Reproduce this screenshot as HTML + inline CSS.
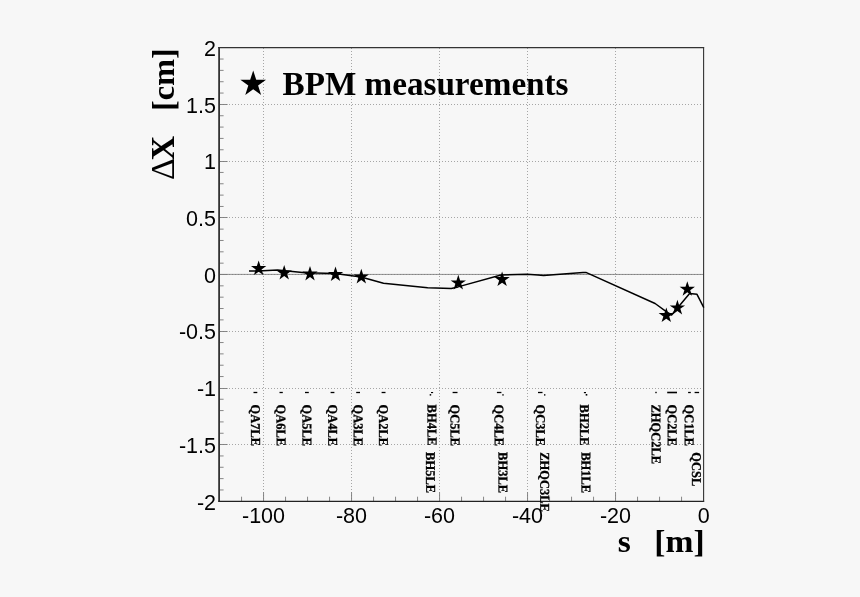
<!DOCTYPE html>
<html><head><meta charset="utf-8"><title>BPM measurements</title>
<style>html,body{margin:0;padding:0;background:#f7f7f7;}body{width:860px;height:597px;overflow:hidden;}svg{display:block;}
.ax{font-family:"Liberation Sans",sans-serif;font-size:21.5px;fill:#000;}
.tt{font-family:"Liberation Serif",serif;font-weight:bold;fill:#000;}
.lb{font-family:"Liberation Serif",serif;font-weight:bold;font-size:300px;fill:#000;stroke:#000;stroke-width:7px;}
</style></head><body>
<svg width="860" height="597" viewBox="0 0 860 597">
<rect x="0" y="0" width="860" height="597" fill="#f7f7f7"/>
<g stroke="#a6a6a6" stroke-width="1" stroke-dasharray="1,2" fill="none">
<line x1="263.5" y1="48.0" x2="263.5" y2="501.2"/>
<line x1="351.5" y1="48.0" x2="351.5" y2="501.2"/>
<line x1="439.5" y1="48.0" x2="439.5" y2="501.2"/>
<line x1="527.5" y1="48.0" x2="527.5" y2="501.2"/>
<line x1="615.5" y1="48.0" x2="615.5" y2="501.2"/>
<line x1="220.0" y1="104.5" x2="703.5" y2="104.5"/>
<line x1="220.0" y1="161.5" x2="703.5" y2="161.5"/>
<line x1="220.0" y1="217.5" x2="703.5" y2="217.5"/>
<line x1="220.0" y1="274.5" x2="703.5" y2="274.5"/>
<line x1="220.0" y1="331.5" x2="703.5" y2="331.5"/>
<line x1="220.0" y1="388.5" x2="703.5" y2="388.5"/>
<line x1="220.0" y1="444.5" x2="703.5" y2="444.5"/>
</g>
<line x1="219.1" y1="274.4" x2="703.5" y2="274.45" stroke="#777" stroke-width="0.8"/>
<g stroke="#7a7a7a" stroke-width="0.9" fill="none">
<line x1="219.1" y1="489.96" x2="223.6" y2="489.96"/>
<line x1="219.1" y1="478.62" x2="223.6" y2="478.62"/>
<line x1="219.1" y1="467.28" x2="223.6" y2="467.28"/>
<line x1="219.1" y1="455.94" x2="223.6" y2="455.94"/>
<line x1="219.1" y1="444.50" x2="227.6" y2="444.50"/>
<line x1="219.1" y1="433.26" x2="223.6" y2="433.26"/>
<line x1="219.1" y1="421.92" x2="223.6" y2="421.92"/>
<line x1="219.1" y1="410.58" x2="223.6" y2="410.58"/>
<line x1="219.1" y1="399.24" x2="223.6" y2="399.24"/>
<line x1="219.1" y1="388.50" x2="227.6" y2="388.50"/>
<line x1="219.1" y1="376.56" x2="223.6" y2="376.56"/>
<line x1="219.1" y1="365.22" x2="223.6" y2="365.22"/>
<line x1="219.1" y1="353.88" x2="223.6" y2="353.88"/>
<line x1="219.1" y1="342.54" x2="223.6" y2="342.54"/>
<line x1="219.1" y1="331.50" x2="227.6" y2="331.50"/>
<line x1="219.1" y1="319.86" x2="223.6" y2="319.86"/>
<line x1="219.1" y1="308.52" x2="223.6" y2="308.52"/>
<line x1="219.1" y1="297.18" x2="223.6" y2="297.18"/>
<line x1="219.1" y1="285.84" x2="223.6" y2="285.84"/>
<line x1="219.1" y1="274.50" x2="227.6" y2="274.50"/>
<line x1="219.1" y1="263.16" x2="223.6" y2="263.16"/>
<line x1="219.1" y1="251.82" x2="223.6" y2="251.82"/>
<line x1="219.1" y1="240.48" x2="223.6" y2="240.48"/>
<line x1="219.1" y1="229.14" x2="223.6" y2="229.14"/>
<line x1="219.1" y1="217.50" x2="227.6" y2="217.50"/>
<line x1="219.1" y1="206.46" x2="223.6" y2="206.46"/>
<line x1="219.1" y1="195.12" x2="223.6" y2="195.12"/>
<line x1="219.1" y1="183.78" x2="223.6" y2="183.78"/>
<line x1="219.1" y1="172.44" x2="223.6" y2="172.44"/>
<line x1="219.1" y1="161.50" x2="227.6" y2="161.50"/>
<line x1="219.1" y1="149.76" x2="223.6" y2="149.76"/>
<line x1="219.1" y1="138.42" x2="223.6" y2="138.42"/>
<line x1="219.1" y1="127.08" x2="223.6" y2="127.08"/>
<line x1="219.1" y1="115.74" x2="223.6" y2="115.74"/>
<line x1="219.1" y1="104.50" x2="227.6" y2="104.50"/>
<line x1="219.1" y1="93.06" x2="223.6" y2="93.06"/>
<line x1="219.1" y1="81.72" x2="223.6" y2="81.72"/>
<line x1="219.1" y1="70.38" x2="223.6" y2="70.38"/>
<line x1="219.1" y1="59.04" x2="223.6" y2="59.04"/>
<line x1="241.55" y1="501.2" x2="241.55" y2="496.7"/>
<line x1="263.55" y1="501.2" x2="263.55" y2="492.2"/>
<line x1="285.55" y1="501.2" x2="285.55" y2="496.7"/>
<line x1="307.55" y1="501.2" x2="307.55" y2="496.7"/>
<line x1="329.55" y1="501.2" x2="329.55" y2="496.7"/>
<line x1="351.55" y1="501.2" x2="351.55" y2="492.2"/>
<line x1="373.55" y1="501.2" x2="373.55" y2="496.7"/>
<line x1="395.55" y1="501.2" x2="395.55" y2="496.7"/>
<line x1="417.55" y1="501.2" x2="417.55" y2="496.7"/>
<line x1="439.55" y1="501.2" x2="439.55" y2="492.2"/>
<line x1="461.55" y1="501.2" x2="461.55" y2="496.7"/>
<line x1="483.55" y1="501.2" x2="483.55" y2="496.7"/>
<line x1="505.55" y1="501.2" x2="505.55" y2="496.7"/>
<line x1="527.55" y1="501.2" x2="527.55" y2="492.2"/>
<line x1="549.55" y1="501.2" x2="549.55" y2="496.7"/>
<line x1="571.55" y1="501.2" x2="571.55" y2="496.7"/>
<line x1="593.55" y1="501.2" x2="593.55" y2="496.7"/>
<line x1="615.55" y1="501.2" x2="615.55" y2="492.2"/>
<line x1="637.55" y1="501.2" x2="637.55" y2="496.7"/>
<line x1="659.55" y1="501.2" x2="659.55" y2="496.7"/>
<line x1="681.55" y1="501.2" x2="681.55" y2="496.7"/>
</g>
<g stroke="#333" fill="none">
<line x1="219.1" y1="47.1" x2="219.1" y2="501.6" stroke-width="1.8"/>
<line x1="218.2" y1="501.3" x2="704.2" y2="501.3" stroke-width="1.3" stroke="#222"/>
<line x1="218.2" y1="47.6" x2="704.1" y2="47.6" stroke-width="1.05"/>
<line x1="703.6" y1="47.1" x2="703.6" y2="501.6" stroke-width="1.1"/>
</g>
<g class="ax" text-anchor="end">
<text x="216" y="55.9">2</text>
<text x="216" y="112.6">1.5</text>
<text x="216" y="169.3">1</text>
<text x="216" y="226.0">0.5</text>
<text x="216" y="282.7">0</text>
<text x="216" y="339.4">-0.5</text>
<text x="216" y="396.1">-1</text>
<text x="216" y="452.8">-1.5</text>
<text x="216" y="509.5">-2</text>
</g>
<g class="ax" text-anchor="middle">
<text x="263.5" y="523">-100</text>
<text x="351.5" y="523">-80</text>
<text x="439.5" y="523">-60</text>
<text x="527.5" y="523">-40</text>
<text x="615.5" y="523">-20</text>
<text x="703.8" y="523">0</text>
</g>
<text class="tt" font-size="33.2" x="282.5" y="94.5">BPM measurements</text>
<text class="tt" font-size="32.6" transform="translate(617.7,551.7) scale(1.03,1)" xml:space="preserve"><tspan x="0">s</tspan><tspan>   </tspan><tspan x="84.37" text-anchor="end">[m]</tspan></text>
<text class="tt" font-size="32.3" transform="translate(174.2,180) rotate(-90)" xml:space="preserve"><tspan x="0" font-size="34" font-weight="normal">Δ</tspan><tspan x="19.4" font-size="34.2">X</tspan><tspan>   </tspan><tspan x="131.8" dy="-0.2" text-anchor="end">[cm]</tspan></text>
<g fill="#000">
<polygon points="253.20,70.50 256.23,79.83 266.04,79.83 258.10,85.59 261.14,94.92 253.20,89.16 245.26,94.92 248.30,85.59 240.36,79.83 250.17,79.83"/>
<polygon points="258.65,260.50 260.46,266.06 266.31,266.06 261.57,269.50 263.38,275.06 258.65,271.63 253.92,275.06 255.73,269.50 250.99,266.06 256.84,266.06"/>
<polygon points="284.20,264.95 286.01,270.51 291.86,270.51 287.12,273.95 288.93,279.51 284.20,276.08 279.47,279.51 281.28,273.95 276.54,270.51 282.39,270.51"/>
<polygon points="310.00,265.95 311.81,271.51 317.66,271.51 312.92,274.95 314.73,280.51 310.00,277.08 305.27,280.51 307.08,274.95 302.34,271.51 308.19,271.51"/>
<polygon points="335.50,266.55 337.31,272.11 343.16,272.11 338.42,275.55 340.23,281.11 335.50,277.68 330.77,281.11 332.58,275.55 327.84,272.11 333.69,272.11"/>
<polygon points="361.30,268.85 363.11,274.41 368.96,274.41 364.22,277.85 366.03,283.41 361.30,279.98 356.57,283.41 358.38,277.85 353.64,274.41 359.49,274.41"/>
<polygon points="458.30,274.85 460.11,280.41 465.96,280.41 461.22,283.85 463.03,289.41 458.30,285.98 453.57,289.41 455.38,283.85 450.64,280.41 456.49,280.41"/>
<polygon points="502.10,271.50 503.91,277.06 509.76,277.06 505.02,280.50 506.83,286.06 502.10,282.63 497.37,286.06 499.18,280.50 494.44,277.06 500.29,277.06"/>
<polygon points="666.30,307.55 668.11,313.11 673.96,313.11 669.22,316.55 671.03,322.11 666.30,318.68 661.57,322.11 663.38,316.55 658.64,313.11 664.49,313.11"/>
<polygon points="677.40,299.85 679.21,305.41 685.06,305.41 680.32,308.85 682.13,314.41 677.40,310.98 672.67,314.41 674.48,308.85 669.74,305.41 675.59,305.41"/>
<polygon points="687.30,281.15 689.11,286.71 694.96,286.71 690.22,290.15 692.03,295.71 687.30,292.28 682.57,295.71 684.38,290.15 679.64,286.71 685.49,286.71"/>
</g>
<polyline fill="none" stroke="#000" stroke-width="1.5" stroke-linejoin="round" points="249.0,271.1 258.0,271.0 277.5,270.1 305.0,272.7 335.0,273.6 361.0,277.0 383.5,283.2 427.7,287.8 451.3,288.5 458.0,286.9 501.0,275.0 527.0,274.2 538.0,274.9 543.6,275.4 583.0,272.4 585.9,272.4 655.1,303.5 666.6,311.8 671.6,315.0 689.6,293.4 697.0,294.3 703.8,307.7"/>
<text class="lb" transform="translate(251.1,404.5) rotate(89.95) scale(0.04167,0.04479)">QA7LE</text>
<text class="lb" transform="translate(276.6,404.5) rotate(89.95) scale(0.04167,0.04479)">QA6LE</text>
<text class="lb" transform="translate(302.5,404.5) rotate(89.95) scale(0.04167,0.04479)">QA5LE</text>
<text class="lb" transform="translate(328.2,404.5) rotate(89.95) scale(0.04167,0.04479)">QA4LE</text>
<text class="lb" transform="translate(353.8,404.5) rotate(89.95) scale(0.04167,0.04479)">QA3LE</text>
<text class="lb" transform="translate(379.0,404.5) rotate(89.95) scale(0.04167,0.04479)">QA2LE</text>
<text class="lb" transform="translate(427.6,404.6) rotate(89.95) scale(0.04167,0.04479)">BH4LE</text>
<text class="lb" transform="translate(426.1,452.1) rotate(89.95) scale(0.04167,0.04479)">BH5LE</text>
<text class="lb" transform="translate(450.6,404.5) rotate(89.95) scale(0.04167,0.04479)">QC5LE</text>
<text class="lb" transform="translate(494.6,404.5) rotate(89.95) scale(0.04167,0.04479)">QC4LE</text>
<text class="lb" transform="translate(498.5,452.1) rotate(89.95) scale(0.04167,0.04479)">BH3LE</text>
<text class="lb" transform="translate(535.9,404.5) rotate(89.95) scale(0.04167,0.04479)">QC3LE</text>
<text class="lb" transform="translate(540.2,452.2) rotate(89.95) scale(0.04167,0.04479)">ZHQC3LE</text>
<text class="lb" transform="translate(579.9,404.6) rotate(89.95) scale(0.04167,0.04479)">BH2LE</text>
<text class="lb" transform="translate(581.5,452.2) rotate(89.95) scale(0.04167,0.04479)">BH1LE</text>
<text class="lb" transform="translate(651.6,404.5) rotate(89.95) scale(0.04167,0.04479)">ZHQC2LE</text>
<text class="lb" transform="translate(667.8,404.5) rotate(89.95) scale(0.04167,0.04479)">QC2LE</text>
<text class="lb" transform="translate(684.7,404.5) rotate(89.95) scale(0.04167,0.04479)">QC1LE</text>
<text class="lb" transform="translate(692.1,452.3) rotate(89.95) scale(0.04167,0.04479)">QCSL</text>
<g stroke="#000" stroke-width="1.3" fill="none">
<line x1="253.5" y1="392.5" x2="257.3" y2="392.5"/>
<line x1="279.5" y1="392.5" x2="282.8" y2="392.5"/>
<line x1="305.0" y1="392.5" x2="308.8" y2="392.5"/>
<line x1="330.6" y1="392.5" x2="334.4" y2="392.5"/>
<line x1="356.2" y1="392.5" x2="360.0" y2="392.5"/>
<line x1="381.6" y1="392.5" x2="385.5" y2="392.5"/>
<line x1="452.6" y1="392.5" x2="457.5" y2="392.5"/>
<line x1="496.9" y1="392.5" x2="501.4" y2="392.5"/>
<line x1="538.0" y1="392.5" x2="542.5" y2="392.5"/>
<line x1="688.1" y1="392.5" x2="690.8" y2="392.5"/>
<line x1="694.6" y1="392.5" x2="699.1" y2="392.5"/>
<line x1="667.2" y1="392.5" x2="677" y2="392.5" stroke-width="1.6"/>
</g>
<g fill="#000"><rect x="583.9" y="392" width="2.1" height="1.2"/><rect x="585.7" y="394" width="1.6" height="1.6"/><rect x="431" y="392" width="2.1" height="1.1"/><rect x="429.7" y="394.1" width="1.5" height="1.5"/><rect x="502.3" y="394.2" width="1.4" height="1.4"/><rect x="544" y="394.2" width="1.4" height="1.4"/><rect x="655.3" y="391.8" width="1.4" height="1.4"/></g>
</svg></body></html>
